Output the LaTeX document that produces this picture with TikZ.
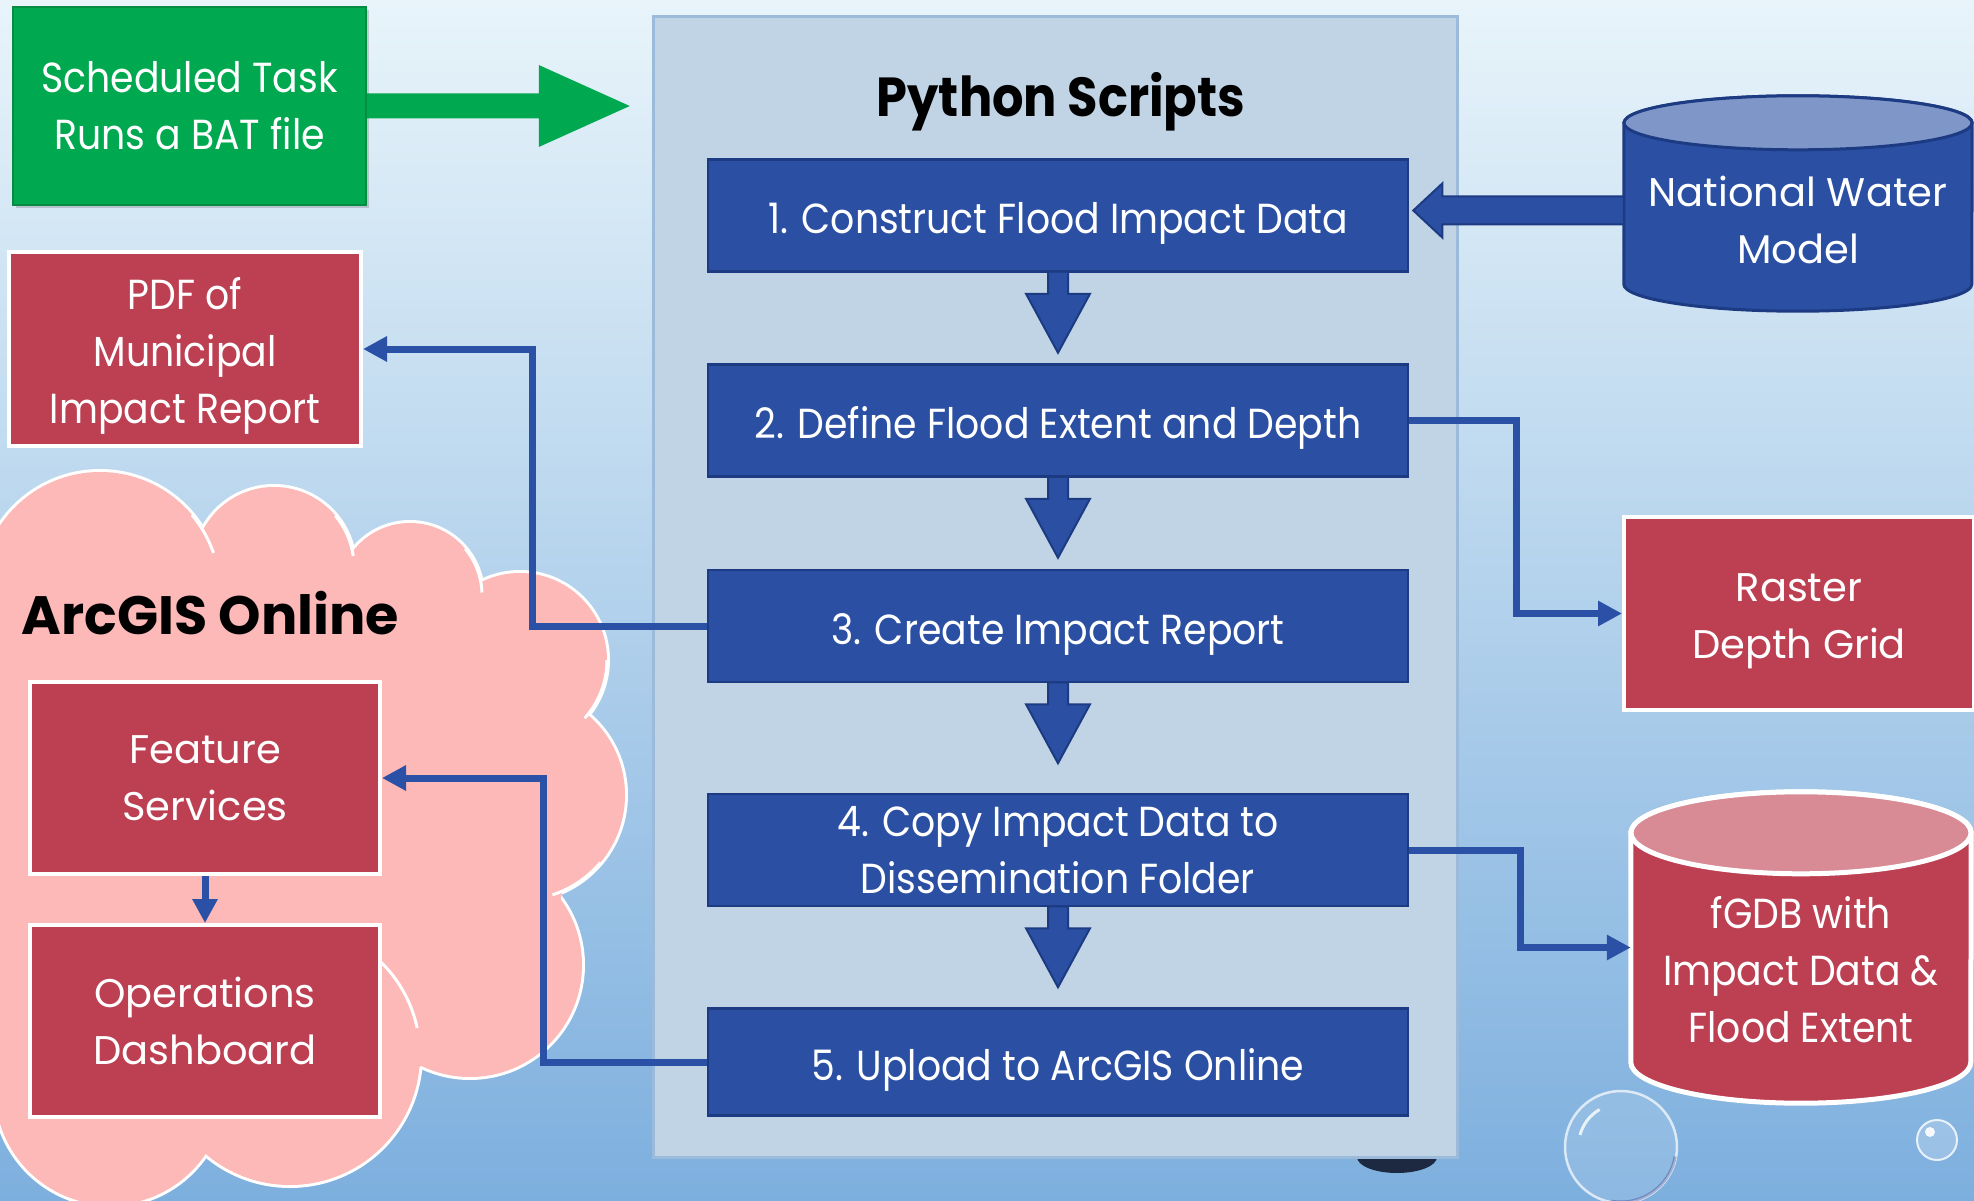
\documentclass[tikz,border=0pt]{standalone}
\usepackage{fontspec}
\setmainfont{Poppins}
\newfontfamily\twfont[FakeStretch=0.9]{Poppins}
\usetikzlibrary{arrows.meta,calc,shadows}
\definecolor{bgtop}{HTML}{E8F4FA}
\definecolor{bgmid}{HTML}{BCD9EE}
\definecolor{bgbot}{HTML}{7DAFDE}
\definecolor{panelfill}{HTML}{C1D4E5}
\definecolor{paneledge}{HTML}{9CBBDA}
\definecolor{bluefill}{HTML}{2A4FA3}
\definecolor{blueedge}{HTML}{1D3B82}
\definecolor{connblue}{HTML}{2A51A5}
\definecolor{redfill}{HTML}{BC3F52}
\definecolor{redtop}{HTML}{D88B95}
\definecolor{nwmtop}{HTML}{7F97C8}
\definecolor{greenfill}{HTML}{00A84F}
\definecolor{greenedge}{HTML}{078A42}
\definecolor{cloudpink}{HTML}{FDB8B8}
\definecolor{shadowdark}{HTML}{1C2940}
\pgfdeclarelayer{back}
\pgfdeclarelayer{mid}
\pgfsetlayers{back,mid,main}
\tikzset{
  boxtext/.style={text=white, align=center},
  stepbox/.style={draw=blueedge, line width=2.5pt, fill=bluefill, minimum width=700pt, minimum height=112pt, inner sep=0pt, boxtext, font=\twfont\fontsize{42}{57}\selectfont},
  oneline/.style={text height=36pt, text depth=0pt},
  redbox/.style={draw=white, line width=4pt, fill=redfill, inner sep=0pt, boxtext},
  gothic/.style={font=\fontsize{40}{57}\selectfont},
  twcen/.style={font=\twfont\fontsize{42}{57}\selectfont},
  conn/.style={draw=connblue, line width=7pt, -{Triangle[length=24pt,width=24pt]}},
  blk/.style={fill=bluefill, draw=blueedge, line width=2pt, line join=miter},
  geom/.style={draw=none, inner sep=0pt},
  cloudline/.style={draw=white, line width=3pt},
}
\newcommand{\downblk}[1]{%
  \filldraw[blk] ($(#1.south)+(-10,-1)$) -- ++(0,22) -- ++(-22,0) -- ($(#1.south)+(0,80)$) -- ($(#1.south)+(32,21)$) -- ++(-22,0) -- ($(#1.south)+(10,-1)$) -- cycle;}
\begin{document}
\begin{tikzpicture}[x=1pt,y=-1pt]
\useasboundingbox (0,0) rectangle (1974,1201);
\begin{pgfonlayer}{back}
  \shade[top color=bgtop, middle color=bgmid, bottom color=bgbot] (0,0) rectangle (1974,1201);
  % bubbles
  \fill[shadowdark] (1397,1157) ellipse [x radius=40, y radius=16];
  \fill[white, opacity=0.12] (1621,1147) circle [radius=56];
  \draw[white, opacity=0.7, line width=2.5pt] (1621,1147) circle [radius=56];
  \draw[black!60!blue, opacity=0.25, line width=3pt] (1621,1147) ++(10:55) arc [start angle=10, end angle=100, radius=55];
  \draw[white, opacity=0.8, line width=3pt] (1580,1135) arc [start angle=195, end angle=240, radius=42];
  \fill[white, opacity=0.2] (1937,1140) circle [radius=20];
  \draw[white, opacity=0.8, line width=2pt] (1937,1140) circle [radius=20];
  \fill[white, opacity=0.9] (1930,1132) circle [radius=5];
  % cloud
  \foreach \cx/\cy/\r in {100/592/120, 274/567/80, 410/595/72, 520/660/87, 520/795/105, 470/965/112, 290/1055/130, 110/1090/115}
    \draw[white, line width=6pt] (\cx,\cy) circle [radius=\r];
  \foreach \cx/\cy/\r in {100/592/120, 274/567/80, 410/595/72, 520/660/87, 520/795/105, 470/965/112, 290/1055/130, 110/1090/115}
    \fill[cloudpink] (\cx,\cy) circle [radius=\r];
  \fill[cloudpink] (280,830) ellipse [x radius=290, y radius=270];
  \fill[cloudpink] (0,620) rectangle (250,1080);
  % inner arcs of the cloud
  \draw[cloudline] (100,592) ++(-40:120) arc [start angle=-40, end angle=-19, radius=120];
  \draw[cloudline] (274,567) ++(-40:80) arc [start angle=-40, end angle=-8, radius=80];
  \draw[cloudline] (410,595) ++(-40:72) arc [start angle=-40, end angle=-2, radius=72];
  \draw[cloudline] (520,660) ++(0:87) arc [start angle=0, end angle=42, radius=87];
  \draw[cloudline] (520,795) ++(40:105) arc [start angle=40, end angle=72, radius=105];
  \draw[cloudline] (290,1055) ++(-55:130) arc [start angle=-55, end angle=-12, radius=130];
  % panel
  \node[draw=paneledge, line width=3pt, fill=panelfill, minimum width=804pt, minimum height=1140pt] (panel) at (1055,587) {};
\end{pgfonlayer}

% python script steps
\node[anchor=base, font=\twfont\bfseries\fontsize{55}{60}\selectfont] (title) at (1061,117) {Python Scripts};
\node[stepbox, oneline] (b1) at (1058,215.5) {1. Construct Flood Impact Data};
\node[stepbox, oneline] (b2) at (1058,420.5) {2. Define Flood Extent and Depth};
\node[stepbox, oneline] (b3) at (1058,626) {3. Create Impact Report};
\node[stepbox] (b4) at (1058,850) {4. Copy Impact Data to\\Dissemination Folder};
\node[stepbox, oneline, minimum height=107pt] (b5) at (1058,1062) {5. Upload to ArcGIS Online};
\downblk{b1}
\downblk{b2}
\downblk{b3}
\downblk{b4}

% scheduled task
\node[fill=greenfill, draw=greenedge, line width=1.5pt, minimum width=353pt, minimum height=198pt, inner sep=0pt, boxtext, twcen, drop shadow={opacity=0.35, shadow xshift=3pt, shadow yshift=-3pt}] (sched) at (189.5,106) {Scheduled Task\\Runs a BAT file};
\fill[greenfill] ($(sched.east)+(0,-12.5)$) -- ++(172,0) -- ++(0,-28.5) -- ($(sched.east)+(263,0)$) -- ($(sched.east)+(172,41)$) -- ++(0,-28.5) -- ($(sched.east)+(0,12.5)$) -- cycle;

% left outputs
\node[redbox, minimum width=352pt, minimum height=194pt] (pdf) at (185,349) {};
\node[twcen, boxtext] (pdftxt) at (185,356) {PDF of\\Municipal\\Impact Report};
\node[anchor=base west, font=\bfseries\fontsize{54}{60}\selectfont] (arcgis) at (18,634) {ArcGIS Online};
\node[redbox, gothic, minimum width=350pt, minimum height=192pt] (fs) at (205,778) {Feature\\Services};
\node[redbox, gothic, minimum width=350pt, minimum height=192pt] (od) at (205,1021) {Operations\\Dashboard};

% right side
\node[redbox, minimum width=350pt, minimum height=193pt] (raster) at (1799,613.5) {};
\node[gothic, boxtext] (rastertxt) at (1799,621) {Raster\\Depth Grid};

\node[geom, minimum width=348pt, minimum height=161pt] (nwm) at (1798,203.5) {};
\node[gothic, boxtext] (nwmtxt) at (1798,220) {National Water\\Model};
\node[geom, minimum width=340pt, minimum height=229pt] (fgdb) at (1801,947.5) {};
\node[twcen, boxtext] (fgdbtxt) at (1801,970) {fGDB with\\Impact Data \&\\Flood Extent};
\begin{pgfonlayer}{mid}
  \filldraw[fill=bluefill, draw=blueedge, line width=3pt] (nwm.north west) -- (nwm.south west) arc [start angle=180, end angle=0, x radius=174, y radius=27] -- (nwm.north east) arc [start angle=0, end angle=-180, x radius=174, y radius=27] -- cycle;
  \filldraw[fill=nwmtop, draw=blueedge, line width=3pt] (nwm.north) ellipse [x radius=174, y radius=27];
  \filldraw[fill=redfill, draw=white, line width=5pt] (fgdb.north west) -- (fgdb.south west) arc [start angle=180, end angle=0, x radius=170, y radius=41] -- (fgdb.north east) arc [start angle=0, end angle=-180, x radius=170, y radius=41] -- cycle;
  \filldraw[fill=redtop, draw=white, line width=5pt] (fgdb.north) ellipse [x radius=170, y radius=41];
\end{pgfonlayer}

% block arrow from national water model
\coordinate (t) at ($(b1.east)+(4,-5)$);
\coordinate (nt) at ($(t)+(0,-14)$);
\coordinate (nb) at ($(t)+(0,14)$);
\filldraw[blk] (t) -- ++(29,-27) -- ++(0,13) -- (nwm.west |- nt) -- (nwm.west |- nb) -- ($(t)+(29,14)$) -- ++(0,13) -- cycle;

% connectors
\draw[conn] (b2.east) -- ++(107,0) |- (raster.west);
\draw[conn] (b4.east) -- ++(111,0) |- (fgdb.west);
\draw[conn] (b3.west) -- ++(-174,0) |- (pdf.east);
\draw[conn] (b5.west) -- ++(-163,0) |- (fs.east);
\draw[conn] (fs.south) -- (od.north);
\end{tikzpicture}
\end{document}
